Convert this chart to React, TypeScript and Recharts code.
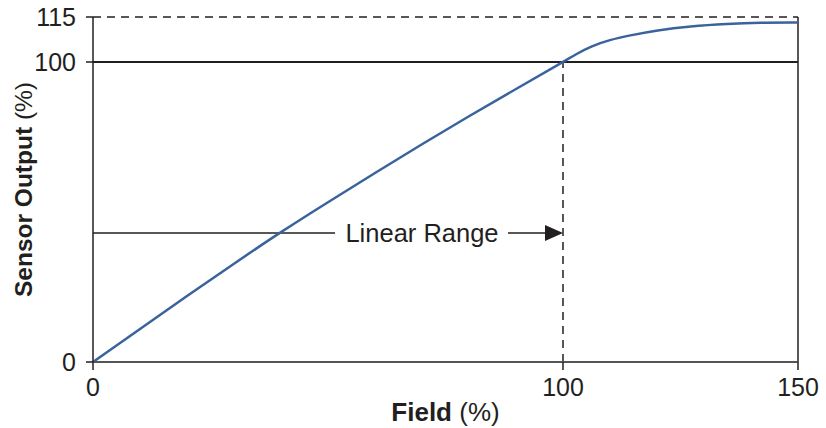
import React from "react";
import { LineChart, Line, XAxis, YAxis, ReferenceLine, ReferenceDot, Label } from "recharts";

// field (%) vs sensor output (%)
const fieldPct = [0, 10, 20, 30, 40, 50, 60, 70, 80, 90, 100, 103, 106, 110, 114, 120, 127, 135, 142, 150];
const outputPct = [0, 11, 22, 32.8, 43.4, 53.3, 63, 72.6, 82, 91, 100, 102.8, 105.3, 107.4, 108.8, 110.6, 111.9, 112.7, 113.1, 113.2];

const xTicks = [0, 100, 150];
const yTicks = [0, 100, 115];

const linearEnd = 100;
const saturation = 115;
const rangeLevel = 43;
const rangeLabel = "Linear Range";
const rangeLabelAt = 70;

const data = fieldPct.map((field, i) => ({ field, output: outputPct[i] }));

const INK = "#231f20";
const FONT = "'Liberation Sans', Arial, Helvetica, sans-serif";

const ArrowLine = (props: any) => {
  const { x1, y1, x2, y2 } = props;
  return (
    <g>
      <line x1={x1} y1={y1} x2={x2 - 14} y2={y2} stroke={INK} strokeWidth={1.5} />
      <polygon points={`${x2},${y2} ${x2 - 18},${y2 - 8} ${x2 - 18},${y2 + 8}`} fill={INK} />
    </g>
  );
};

const FieldTitle = (props: any) => {
  const { x, y, width, height } = props.viewBox;
  return (
    <text x={x + width / 2} y={y + height + 29} textAnchor="middle" fontSize={26} fill={INK} fontFamily={FONT}>
      <tspan fontWeight="bold">Field</tspan>
      <tspan> (%)</tspan>
    </text>
  );
};

const OutputTitle = (props: any) => {
  const { x, y, height } = props.viewBox;
  const cx = x - 1;
  const cy = y + height / 2;
  return (
    <text x={cx} y={cy} transform={`rotate(-90, ${cx}, ${cy})`} textAnchor="middle" fontSize={24.5} fill={INK} fontFamily={FONT}>
      <tspan fontWeight="bold">Sensor Output</tspan>
      <tspan> (%)</tspan>
    </text>
  );
};

export default function App() {
  return (
    <div style={{ position: "absolute", left: 0, top: 0, background: "#fff" }}>
      <LineChart
        width={826}
        height={428}
        data={data}
        margin={{ top: 17, right: 28, bottom: 36, left: 33 }}
        style={{ fontFamily: FONT }}
      >
        <XAxis
          type="number"
          dataKey="field"
          domain={[0, 150]}
          ticks={xTicks}
          height={30}
          tickSize={8}
          tickMargin={8}
          tick={{ fontSize: 25, fill: INK }}
          axisLine={{ stroke: "#555", strokeWidth: 2 }}
          tickLine={{ stroke: INK, strokeWidth: 1.5 }}
        >
          <Label content={FieldTitle} />
        </XAxis>
        <YAxis
          type="number"
          domain={[0, 115]}
          ticks={yTicks}
          width={60}
          tickSize={7}
          tickMargin={10}
          tick={{ fontSize: 25, fill: INK }}
          axisLine={{ stroke: INK, strokeWidth: 1.5 }}
          tickLine={{ stroke: INK, strokeWidth: 1.5 }}
        >
          <Label content={OutputTitle} />
        </YAxis>

        <ReferenceLine y={saturation} stroke={INK} strokeWidth={1.5} strokeDasharray="8 6" />
        <ReferenceLine y={linearEnd} stroke={INK} strokeWidth={2} />
        <ReferenceLine x={150} stroke={INK} strokeWidth={1.5} />
        <ReferenceLine
          segment={[{ x: linearEnd, y: 0 }, { x: linearEnd, y: linearEnd }]}
          stroke={INK}
          strokeWidth={1.5}
          strokeDasharray="8 6"
        />
        <ReferenceLine
          segment={[{ x: 0, y: rangeLevel }, { x: 51.5, y: rangeLevel }]}
          stroke={INK}
          strokeWidth={1.5}
        />
        <ReferenceLine
          segment={[{ x: 88.3, y: rangeLevel }, { x: linearEnd, y: rangeLevel }]}
          shape={ArrowLine}
        />
        <ReferenceDot
          x={rangeLabelAt}
          y={rangeLevel}
          r={0}
          fill="none"
          stroke="none"
          label={{ value: rangeLabel, position: "center", fontSize: 25.5, fill: INK }}
        />

        <Line
          type="basis"
          dataKey="output"
          stroke="#3a639d"
          strokeWidth={2.5}
          dot={false}
          isAnimationActive={false}
        />
      </LineChart>
    </div>
  );
}
